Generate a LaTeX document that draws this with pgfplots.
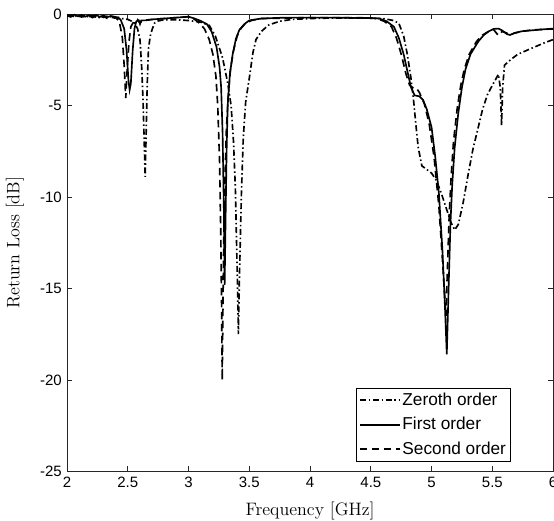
\documentclass[border=0pt]{standalone}
\usepackage{fontspec}
\usepackage{pgfplots}
\pgfplotsset{compat=1.18}
\newfontfamily\arial{Liberation Sans}
\definecolor{axgray}{gray}{0.15}

\begin{document}
\begin{tikzpicture}
\begin{axis}[
  name=ax,
  scale only axis,
  width=324pt, height=305pt,
  xmin=2, xmax=6, ymin=-25, ymax=0,
  xtick={2,2.5,...,6}, ytick={-25,-20,...,0},
  axis line style={axgray},
  tick style={axgray, line width=0.5pt},
  major tick length=3.5pt,
  ticklabel style={font=\arial\fontsize{10}{12}\selectfont},
  /pgf/number format/assume math mode=true,
  xlabel={Frequency [GHz]},
  ylabel={Return Loss [dB]},
  label style={font=\fontsize{12}{14}\selectfont},
  xlabel style={yshift=-3pt},
  ylabel style={yshift=4pt},
  legend cell align=left,
  legend style={at={(rel axis cs:0.913,0.022)}, anchor=south east,
    font=\arial\fontsize{11.5}{13}\selectfont, draw=black,
    inner xsep=2pt, inner ysep=2pt, row sep=4.5pt,
    nodes={inner xsep=1pt, inner ysep=1pt}},
  legend image code/.code={\draw[#1] plot coordinates {(0cm,0cm) (0.94cm,0cm)};},
  every axis plot/.append style={black, line width=1.1pt},
]
% Zeroth order
\addplot[dash pattern=on 4pt off 1.8pt on 1pt off 1.8pt] coordinates {
(2.00,-0.10) (2.03,-0.16) (2.06,-0.07) (2.09,-0.17) (2.12,-0.09) (2.15,-0.19)
(2.18,-0.11) (2.21,-0.20) (2.24,-0.10) (2.27,-0.22) (2.30,-0.12) (2.33,-0.24)
(2.36,-0.14) (2.39,-0.22) (2.42,-0.18) (2.45,-0.25) (2.50,-0.30) (2.55,-0.45)
(2.58,-0.80) (2.60,-1.40) (2.615,-3.0) (2.625,-4.7) (2.635,-7.0) (2.643,-8.9)
(2.652,-6.2) (2.66,-3.8) (2.67,-1.9) (2.685,-1.2) (2.70,-0.85) (2.72,-0.50)
(2.75,-0.38) (2.80,-0.32) (2.90,-0.32) (3.00,-0.36) (3.10,-0.45) (3.17,-0.62)
(3.22,-1.20) (3.28,-2.40) (3.32,-3.70) (3.35,-5.0) (3.37,-7.0) (3.385,-9.5)
(3.40,-14.0) (3.41,-17.5) (3.42,-14.0) (3.435,-9.8) (3.45,-6.8) (3.47,-4.8)
(3.50,-3.5) (3.53,-2.1) (3.555,-1.4) (3.60,-0.95) (3.66,-0.60) (3.75,-0.40)
(3.85,-0.30) (4.00,-0.25) (4.20,-0.22) (4.40,-0.22) (4.60,-0.25) (4.68,-0.35)
(4.73,-0.50) (4.77,-1.20) (4.80,-2.20) (4.83,-3.50) (4.85,-4.60) (4.87,-6.0)
(4.89,-7.3) (4.92,-8.3) (4.96,-8.5) (5.00,-8.7) (5.04,-9.1) (5.08,-9.8)
(5.12,-10.6) (5.16,-11.4) (5.19,-11.8) (5.22,-11.5) (5.26,-10.3) (5.30,-8.8)
(5.34,-7.4) (5.38,-6.3) (5.42,-5.2) (5.46,-4.4) (5.50,-3.9) (5.55,-3.3)
(5.565,-4.0) (5.576,-6.1) (5.585,-4.0) (5.60,-2.8) (5.65,-2.5) (5.71,-2.2)
(5.78,-2.0) (5.85,-1.8) (5.92,-1.6) (6.00,-1.4)
};
\addlegendentry{Zeroth order}
% First order
\addplot[solid] coordinates {
(2.00,-0.05) (2.03,-0.12) (2.06,-0.04) (2.09,-0.13) (2.12,-0.06) (2.15,-0.15)
(2.18,-0.07) (2.21,-0.14) (2.24,-0.06) (2.27,-0.16) (2.30,-0.09) (2.33,-0.18)
(2.36,-0.11) (2.40,-0.16) (2.44,-0.30) (2.47,-0.80) (2.49,-2.0) (2.505,-3.6)
(2.515,-4.15) (2.525,-3.8) (2.54,-2.0) (2.555,-0.8) (2.57,-0.40) (2.59,-0.35)
(2.60,-0.55) (2.61,-0.35) (2.65,-0.35) (2.70,-0.30) (2.80,-0.25) (2.90,-0.20)
(3.00,-0.15) (3.05,-0.25) (3.10,-0.38) (3.15,-0.55) (3.19,-0.97) (3.23,-1.8)
(3.255,-2.9) (3.268,-4.0) (3.28,-6.5) (3.29,-10.5) (3.297,-14.8) (3.305,-11.0)
(3.313,-7.5) (3.322,-5.0) (3.34,-3.3) (3.363,-2.2) (3.39,-1.35) (3.418,-0.87)
(3.46,-0.55) (3.50,-0.35) (3.60,-0.25) (3.80,-0.20) (4.00,-0.20) (4.20,-0.20)
(4.40,-0.22) (4.50,-0.22) (4.57,-0.25) (4.63,-0.40) (4.69,-0.70) (4.73,-1.30)
(4.77,-2.2) (4.80,-3.1) (4.83,-4.0) (4.86,-4.45) (4.90,-4.5) (4.93,-4.7)
(4.96,-5.2) (5.00,-6.2) (5.03,-7.8) (5.06,-9.8) (5.09,-13.0) (5.11,-16.0)
(5.125,-18.6) (5.14,-15.0) (5.155,-11.5) (5.17,-9.3) (5.19,-7.3) (5.22,-5.4)
(5.25,-4.0) (5.28,-3.0) (5.32,-2.2) (5.385,-1.5) (5.43,-1.15) (5.47,-0.95)
(5.51,-0.82) (5.55,-0.80) (5.58,-0.90) (5.62,-1.10) (5.645,-1.15) (5.68,-1.05)
(5.74,-0.95) (5.82,-0.90) (5.90,-0.85) (6.00,-0.80)
};
\addlegendentry{First order}
% Second order
\addplot[dash pattern=on 5pt off 3pt] coordinates {
(2.00,-0.10) (2.03,-0.06) (2.06,-0.15) (2.09,-0.08) (2.12,-0.17) (2.15,-0.07)
(2.18,-0.16) (2.21,-0.09) (2.24,-0.18) (2.27,-0.10) (2.30,-0.19) (2.33,-0.12)
(2.36,-0.20) (2.40,-0.20) (2.43,-0.40) (2.455,-1.3) (2.47,-2.8) (2.483,-4.6)
(2.495,-3.0) (2.51,-1.5) (2.525,-0.70) (2.55,-0.40) (2.58,-0.30) (2.60,-0.50)
(2.62,-0.35) (2.70,-0.30) (2.80,-0.25) (2.90,-0.20) (3.00,-0.15) (3.03,-0.20)
(3.08,-0.45) (3.13,-0.80) (3.17,-1.4) (3.20,-2.2) (3.225,-3.4) (3.24,-5.0)
(3.255,-8.0) (3.265,-12.0) (3.272,-16.0) (3.277,-20.0) (3.283,-16.0) (3.29,-12.0)
(3.30,-9.0) (3.31,-6.5) (3.325,-4.6) (3.345,-3.0) (3.37,-2.0) (3.40,-1.2)
(3.43,-0.80) (3.47,-0.50) (3.52,-0.35) (3.60,-0.25) (4.00,-0.20) (4.40,-0.20)
(4.55,-0.25) (4.61,-0.40) (4.67,-0.70) (4.71,-1.30) (4.75,-2.2) (4.79,-3.3)
(4.82,-3.9) (4.85,-4.05) (4.88,-4.1) (4.90,-4.3) (4.94,-4.9) (4.98,-6.0)
(5.02,-7.8) (5.06,-10.5) (5.09,-13.5) (5.118,-16.5) (5.13,-14.0) (5.145,-11.0)
(5.16,-9.0) (5.18,-7.0) (5.21,-5.2) (5.24,-3.9) (5.27,-3.0) (5.31,-2.2)
(5.37,-1.5) (5.42,-1.15) (5.47,-0.95) (5.51,-0.85) (5.54,-1.10) (5.56,-1.15)
(5.58,-0.95) (5.62,-1.05) (5.645,-1.15) (5.68,-1.05) (5.74,-0.95) (5.82,-0.88)
(5.90,-0.85) (6.00,-0.82)
};
\addlegendentry{Second order}
\end{axis}
\pgfresetboundingbox
\path[use as bounding box] ([xshift=-44.7pt,yshift=-32.7pt]ax.south west) rectangle ([xshift=0.6pt,yshift=9.3pt]ax.north east);
\end{tikzpicture}
\end{document}
